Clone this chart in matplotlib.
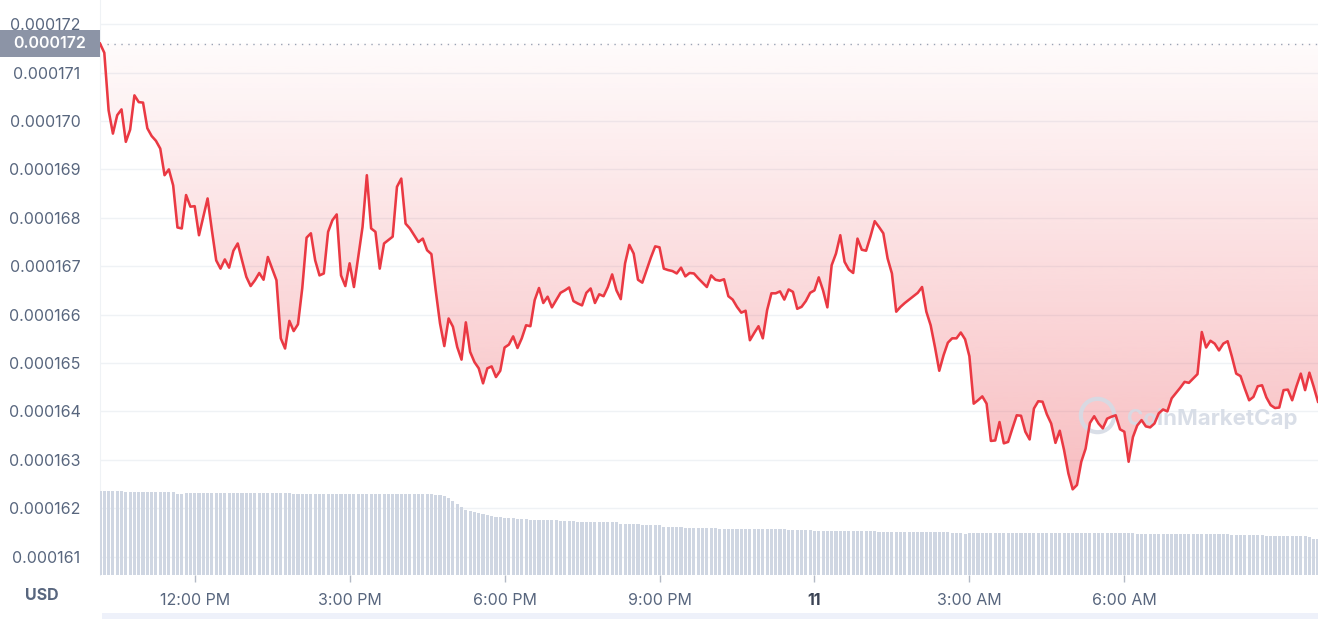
import numpy as np
import pandas as pd
import matplotlib
matplotlib.use('Agg')
import matplotlib.pyplot as plt
import matplotlib.dates as mdates
from matplotlib.patches import PathPatch, Rectangle
from matplotlib.path import Path
from matplotlib.ticker import FixedLocator

plt.rcParams['font.family'] = ['Inter', 'DejaVu Sans']

# ---------------- data ----------------
start_time = '2023-05-10 10:10'
step = '5min'

# price in micro-USD (x 1e-6)
price_micro = [
    171.60, 171.41, 170.22, 169.74, 170.12, 170.24, 169.57, 169.82, 170.53, 170.39,
    170.38, 169.85, 169.69, 169.59, 169.43, 168.88, 169.00, 168.67, 167.80, 167.78,
    168.47, 168.23, 168.24, 167.64, 168.02, 168.40, 167.74, 167.12, 166.95, 167.14,
    166.97, 167.32, 167.47, 167.12, 166.78, 166.59, 166.71, 166.86, 166.72, 167.19,
    166.95, 166.71, 165.51, 165.30, 165.87, 165.66, 165.80, 166.55,
    167.59, 167.68, 167.12, 166.81, 166.85, 167.71, 167.95, 168.07, 166.81, 166.59,
    167.06, 166.57, 167.19, 167.81, 168.88, 167.78, 167.71, 166.95, 167.47, 167.54,
    167.61, 168.64, 168.81, 167.88, 167.78, 167.64, 167.50, 167.57, 167.33, 167.25,
    166.50, 165.82, 165.35, 165.92, 165.75, 165.33, 165.07, 165.84, 165.23, 165.02,
    164.89, 164.58, 164.89, 164.93, 164.71, 164.84, 165.32, 165.38,
    165.55, 165.31, 165.51, 165.78, 165.76, 166.30, 166.55, 166.24, 166.37, 166.15,
    166.30, 166.45, 166.50, 166.56, 166.28, 166.23, 166.19, 166.45, 166.54, 166.24,
    166.42, 166.38, 166.57, 166.83, 166.50, 166.32, 167.06, 167.44, 167.26, 166.72,
    166.66, 166.92, 167.18, 167.41, 167.39, 166.95, 166.92, 166.90, 166.85, 166.97,
    166.79, 166.86, 166.85, 166.75, 166.66, 166.57, 166.81, 166.72,
    166.70, 166.73, 166.38, 166.31, 166.16, 166.04, 166.08, 165.47, 165.62, 165.76,
    165.51, 166.09, 166.44, 166.44, 166.48, 166.31, 166.52, 166.47, 166.12, 166.16,
    166.28, 166.45, 166.50, 166.77, 166.50, 166.15, 167.02, 167.26, 167.64, 167.09,
    166.93, 166.86, 167.57, 167.34, 167.32, 167.61, 167.93, 167.81, 167.68, 167.16,
    166.85, 166.06, 166.16, 166.24, 166.31, 166.38, 166.45, 166.57,
    166.06, 165.78, 165.33, 164.84, 165.16, 165.42, 165.51, 165.51, 165.63, 165.49,
    165.14, 164.16, 164.23, 164.31, 164.16, 163.39, 163.40, 163.78, 163.34, 163.37,
    163.65, 163.92, 163.91, 163.58, 163.42, 164.06, 164.21, 164.20, 163.94, 163.75,
    163.35, 163.60, 163.20, 162.72, 162.39, 162.48, 162.96, 163.23, 163.76, 163.90,
    163.75, 163.65, 163.85, 163.89, 163.92, 163.63, 163.58,
    162.96, 163.47, 163.71, 163.82, 163.69, 163.67, 163.75, 163.96, 164.04, 164.00,
    164.27, 164.38, 164.49, 164.61, 164.59, 164.68, 164.77, 165.64, 165.32, 165.46,
    165.40, 165.26, 165.40, 165.45, 165.13, 164.78, 164.73, 164.47, 164.23, 164.30,
    164.52, 164.54, 164.29, 164.13, 164.07, 164.08, 164.44, 164.45, 164.23, 164.52,
    164.78, 164.44, 164.80, 164.51, 164.20,
]

# volume bars (relative units)
volume = [
    84.0, 84.0, 84.0, 84.0, 84.0, 84.0, 82.7, 82.7, 82.7, 82.7,
    82.7, 82.7, 82.7, 82.7, 82.7, 82.7, 82.7, 82.7, 81.3, 81.3,
    82.3, 82.3, 82.3, 82.3, 82.3, 82.3, 82.3, 82.3, 82.3, 82.3,
    82.3, 82.3, 82.3, 82.3, 82.3, 82.3, 82.3, 82.3, 82.3, 82.3,
    82.3, 82.3, 82.3, 82.3, 82.3, 81.0, 81.0, 81.0, 81.0, 81.0,
    81.0, 81.0, 81.0, 81.0, 81.0, 81.0, 81.0, 81.0, 81.0, 81.0,
    81.0, 81.0, 81.0, 81.0, 81.0, 81.0, 81.0, 81.0, 81.0, 81.0,
    81.0, 81.0, 81.0, 81.0, 81.0, 81.0, 81.0, 81.0, 80.3, 80.3,
    79.3, 77.5, 74.5, 71.0, 68.0, 65.5, 64.0, 63.0, 62.0, 61.0,
    60.0, 59.0, 58.5, 57.7, 57.0, 57.0, 57.0, 56.3, 56.3, 56.3,
    55.5, 55.5, 55.5, 55.0, 55.0, 55.0, 55.0, 54.3, 54.3, 54.3,
    54.3, 53.5, 53.5, 53.5, 53.5, 53.5, 52.7, 52.7, 52.7, 52.7,
    52.7, 51.5, 51.5, 51.5, 51.5, 51.5, 50.0, 50.0, 50.0, 50.0,
    50.0, 48.5, 48.5, 48.5, 48.5, 48.5, 46.7, 46.7, 46.7, 46.7,
    46.7, 46.7, 46.7, 46.7, 45.7, 45.7, 45.7, 45.7, 45.7, 45.7,
    45.7, 45.7, 45.7, 45.7, 45.7, 45.7, 45.7, 45.7, 45.7, 45.7,
    44.7, 44.7, 44.7, 44.7, 44.7, 44.7, 44.0, 44.0, 44.0, 44.0,
    44.0, 44.0, 44.0, 44.0, 44.0, 44.0, 44.0, 44.0, 44.0, 44.0,
    44.0, 43.0, 43.0, 43.0, 43.0, 43.0, 43.0, 43.0, 43.0, 43.0,
    43.0, 43.0, 43.0, 43.0, 43.0, 43.0, 43.0, 43.0, 42.0, 42.0,
    42.0, 41.0, 42.0, 42.0, 42.0, 42.0, 42.0, 42.0, 42.0, 42.0,
    42.0, 42.0, 42.0, 42.0, 42.0, 42.0, 42.0, 42.0, 42.0, 42.0,
    42.0, 42.0, 42.0, 42.0, 42.0, 42.0, 42.0, 42.0, 42.0, 42.0,
    42.0, 42.0, 42.0, 42.0, 42.0, 42.0, 42.0, 42.0, 42.0, 42.0,
    42.0, 41.0, 41.0, 41.0, 41.0, 41.0, 41.0, 41.0, 41.0, 41.0,
    41.0, 41.0, 41.0, 41.0, 41.0, 41.0, 41.0, 41.0, 41.0, 41.0,
    41.0, 41.0, 41.0, 40.0, 40.0, 40.0, 40.0, 40.0, 40.0, 40.0,
    40.0, 39.0, 39.0, 39.0, 39.0, 39.0, 39.0, 39.0, 39.0, 39.0,
    39.0, 37.7, 36.0, 36.0,
]

ytick_values = [0.000161, 0.000162, 0.000163, 0.000164, 0.000165, 0.000166,
                0.000167, 0.000168, 0.000169, 0.000170, 0.000171, 0.000172]
xtick_times = ['2023-05-10 12:00', '2023-05-10 15:00', '2023-05-10 18:00',
               '2023-05-10 21:00', '2023-05-11 00:00', '2023-05-11 03:00',
               '2023-05-11 06:00']
xtick_labels = ['12:00 PM', '3:00 PM', '6:00 PM', '9:00 PM', '11', '3:00 AM', '6:00 AM']

# ---------------- build ----------------
prices = np.array(price_micro) * 1e-6
times = pd.date_range(start_time, periods=len(prices), freq=step)
x = mdates.date2num(times.to_pydatetime())
xt = mdates.date2num(pd.to_datetime(xtick_times).to_pydatetime())
dx = x[1] - x[0]

W, H = 1318, 619
fig = plt.figure(figsize=(W / 100, H / 100), dpi=100)
rect = [100 / W, 1 - 575 / H, 1218 / W, 575 / H]

GRAY = '#58667e'
GRID = '#eff2f5'
RED = '#ea3943'
ymin, ymax = 0.00016062, 0.0001725

base = fig.add_axes(rect)
base.set_zorder(0)
base.set_xlim(x[0], x[-1])
base.set_ylim(ymin, ymax)
base.set_yticks(ytick_values)
base.set_yticklabels([f'{v:.6f}' for v in ytick_values])
base.yaxis.grid(True, color=GRID, lw=1)
base.set_axisbelow(True)
base.xaxis.set_major_locator(FixedLocator(xt))
base.set_xticklabels(xtick_labels)
for s in ['top', 'right', 'bottom']:
    base.spines[s].set_visible(False)
base.spines['left'].set_color(GRID)
base.tick_params(axis='y', length=0, pad=14, labelsize=11.5, labelcolor=GRAY)
base.tick_params(axis='x', length=5, width=1, color='#b3bac6', pad=8,
                 labelsize=11.5, labelcolor=GRAY)
for lab in base.get_xticklabels():
    if lab.get_text() == '11':
        lab.set_fontweight('bold')
        lab.set_color('#3b4354')

vol = base.twinx()
vol.set_zorder(1)
vol.patch.set_visible(False)
vol.bar(x, volume, width=dx * 0.72, color='#cfd6e2', align='center', linewidth=0)
vol.set_ylim(0, 575)
vol.axis('off')
vol.set_xlim(x[0], x[-1])

pr = fig.add_axes(rect, sharex=base, sharey=base)
pr.set_zorder(2)
pr.patch.set_visible(False)
pr.axis('off')

open_p = prices[0]
fb = pr.fill_between(x, prices, open_p, where=prices <= open_p,
                     interpolate=True, color='none', linewidth=0)
path = Path.make_compound_path(*fb.get_paths())
grad = np.zeros((256, 1, 4))
grad[..., 0] = 234 / 255
grad[..., 1] = 57 / 255
grad[..., 2] = 67 / 255
grad[:, 0, 3] = np.linspace(0.33, 0.02, 256)
im = pr.imshow(grad, extent=[x[0], x[-1], prices.min(), open_p], aspect='auto',
               origin='lower', interpolation='bicubic', zorder=1)
im.set_clip_path(PathPatch(path, transform=pr.transData))

pr.axhline(open_p, color='#9aa3b5', lw=1, ls=(0, (1, 4)), zorder=2)

# watermark
pr.plot([0.8186], [0.278], marker='o', ms=24, mfc='none', mec='#d5dbe5',
        mew=3, transform=pr.transAxes, zorder=2.5, alpha=0.9)
pr.text(0.843, 0.273, 'CoinMarketCap', transform=pr.transAxes, fontsize=16,
        fontweight='bold', color='#d5dbe5', alpha=0.9, va='center', ha='left',
        zorder=2.5)

pr.plot(x, prices, color=RED, lw=1.85, solid_joinstyle='round', zorder=3)
pr.set_xlim(x[0], x[-1])
pr.set_ylim(ymin, ymax)

# open price label box
y_ax = base.transAxes.inverted().transform(base.transData.transform((x[0], open_p)))[1]
box = Rectangle((-100 / 1218, y_ax - 13.5 / 575), 100 / 1218, 27 / 575,
                transform=base.transAxes, clip_on=False, facecolor='#8c94a6',
                edgecolor='none', zorder=5)
fig.add_artist(box)
fig.text(50 / W, 1 - (575 * (1 - y_ax)) / H, f'{open_p:.6f}', ha='center', va='center',
         color='white', fontsize=11.5, fontweight='semibold', zorder=6)

# axis unit
fig.text(42 / W, 1 - 596 / H, 'USD', ha='center', va='center', color=GRAY,
         fontsize=11.5, fontweight='bold')

# bottom navigator strip
fig.add_artist(Rectangle((102 / W, 0), 1 - 102 / W, 6 / H, transform=fig.transFigure,
                         facecolor='#eef1fa', edgecolor='none'))

fig.savefig('out.png', dpi=100)
